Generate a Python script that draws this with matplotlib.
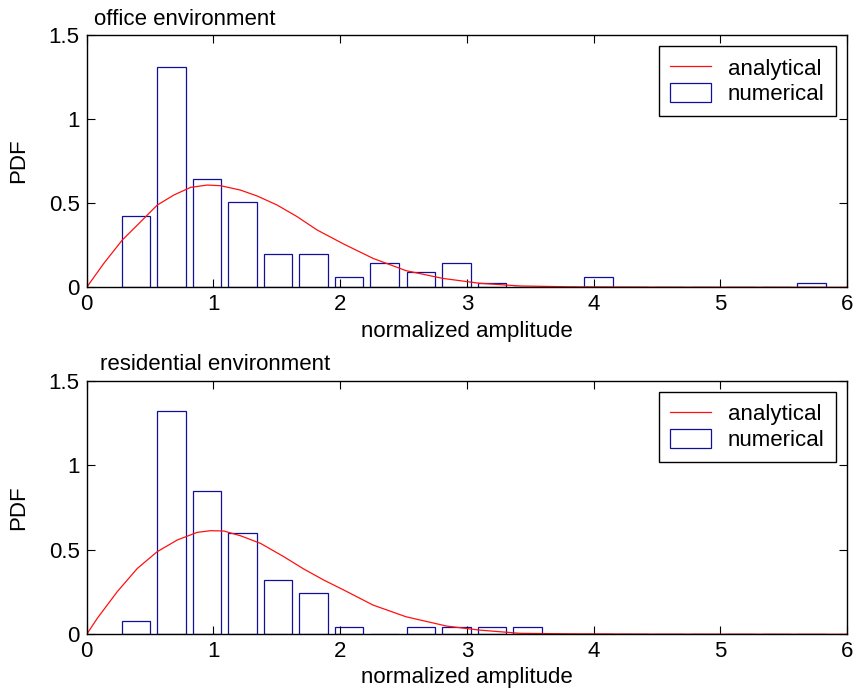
# PDF of normalized amplitude: office vs residential environment
import matplotlib.pyplot as plt
from matplotlib.ticker import FuncFormatter

plt.rcParams['font.family'] = ['Liberation Sans', 'DejaVu Sans']
plt.rcParams['font.size'] = 16

# histogram bin centres (normalized amplitude)
bin_centers = [0.39, 0.67, 0.95, 1.23, 1.51, 1.79, 2.07, 2.35, 2.64, 2.92,
               3.20, 3.48, 3.76, 4.04, 4.32, 4.60, 4.88, 5.16, 5.44, 5.72]
office_hist = [0.424, 1.308, 0.642, 0.507, 0.196, 0.196, 0.059, 0.143, 0.089, 0.143,
               0.027, 0, 0, 0.059, 0, 0, 0, 0, 0, 0.027]
resid_hist = [0.081, 1.323, 0.848, 0.599, 0.321, 0.246, 0.041, 0, 0.041, 0.041,
              0.041, 0.041, 0, 0, 0, 0, 0, 0, 0, 0]

# analytical curves
office_x = [0, 0.136, 0.281, 0.40, 0.557, 0.689, 0.82, 0.951, 1.057, 1.214, 1.345,
            1.503, 1.661, 1.818, 2.029, 2.26, 2.52, 2.81, 3.10, 3.42, 3.8, 4.5, 6.0]
office_y = [0, 0.143, 0.281, 0.370, 0.489, 0.549, 0.594, 0.608, 0.604, 0.578, 0.543,
            0.489, 0.42, 0.341, 0.257, 0.172, 0.099, 0.053, 0.024, 0.008, 0.003, 0.001, 0]
resid_x = [0, 0.084, 0.241, 0.40, 0.557, 0.715, 0.872, 0.978, 1.083, 1.214, 1.372,
           1.556, 1.714, 1.871, 2.029, 2.26, 2.52, 2.84, 3.10, 3.42, 3.8, 4.5, 6.0]
resid_y = [0, 0.095, 0.252, 0.39, 0.489, 0.558, 0.603, 0.613, 0.611, 0.583, 0.538,
           0.459, 0.386, 0.321, 0.262, 0.173, 0.104, 0.049, 0.025, 0.006, 0.003, 0.001, 0]

bin_step = 0.2807
titles = ['office environment', 'residential environment']

fig = plt.figure(figsize=(8.59, 6.96), dpi=100)
ax1 = fig.add_axes([0.1009, 0.5872, 0.8851, 0.3625])
ax2 = fig.add_axes([0.1009, 0.0886, 0.8851, 0.3644])

fmt = FuncFormatter(lambda v, p: f'{v:g}')

for ax, hist, cx, cy in [(ax1, office_hist, office_x, office_y),
                         (ax2, resid_hist, resid_x, resid_y)]:
    ax.bar(bin_centers, hist, width=0.8 * bin_step, facecolor='none',
           edgecolor='#10109a', linewidth=0.9, label='numerical')
    ax.plot(cx, cy, color='#ff1010', linewidth=0.9, label='analytical')
    ax.set_xlim(0, 6)
    ax.set_ylim(0, 1.5)
    ax.set_xticks(range(7))
    ax.set_yticks([0, 0.5, 1, 1.5])
    ax.yaxis.set_major_formatter(fmt)
    ax.tick_params(direction='in', top=True, right=True, length=6, width=0.8, pad=5)
    for s in ax.spines.values():
        s.set_linewidth(1.0)
    ax.set_xlabel('normalized amplitude')
    ax.set_ylabel('PDF')
    ax.yaxis.set_label_coords(-0.076, 0.5)
    leg = ax.legend(loc='upper right', bbox_to_anchor=(0.985, 0.955), fancybox=False,
                    framealpha=1, edgecolor='black', borderpad=0.5, handlelength=1.85,
                    handleheight=0.95, handletextpad=0.75, labelspacing=0.15,
                    borderaxespad=0)
    leg.get_frame().set_linewidth(1.0)

ax1.xaxis.set_label_coords(0.5, -0.135)
ax2.xaxis.set_label_coords(0.5, -0.13)

fig.text(94 / 859, 1 - 25 / 696, titles[0], va='baseline')
fig.text(100 / 859, 1 - 370 / 696, titles[1], va='baseline')

fig.savefig('out.png', dpi=100)
